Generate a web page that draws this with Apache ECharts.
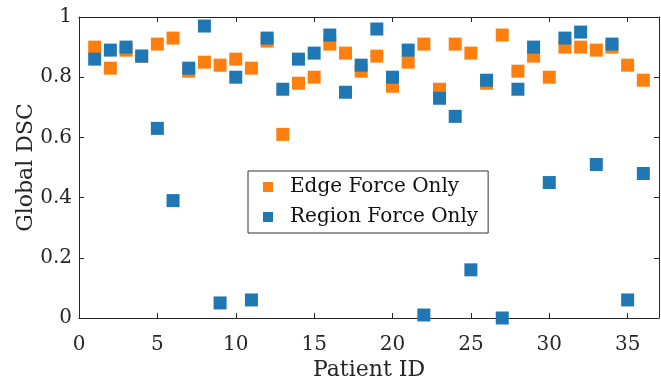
<!DOCTYPE html>
<html><head><meta charset="utf-8">
<script src="https://cdn.jsdelivr.net/npm/echarts@6/dist/echarts.min.js"></script>
<style>html,body{margin:0;padding:0;background:#fff}#c{width:661px;height:385px}</style>
</head><body><div id="c"></div>
<script>
const patientIds = [1,2,3,4,5,6,7,8,9,10,11,12,13,14,15,16,17,18,19,20,21,22,23,24,25,26,27,28,29,30,31,32,33,34,35,36];
const edgeForce = [0.90,0.83,0.89,0.87,0.91,0.93,0.82,0.85,0.84,0.86,0.83,0.92,0.61,0.78,0.80,0.91,0.88,0.82,0.87,0.77,0.85,0.91,0.76,0.91,0.88,0.78,0.94,0.82,0.87,0.80,0.90,0.90,0.89,0.90,0.84,0.79];
const regionForce = [0.86,0.89,0.90,0.87,0.63,0.39,0.83,0.97,0.05,0.80,0.06,0.93,0.76,0.86,0.88,0.94,0.75,0.84,0.96,0.80,0.89,0.01,0.73,0.67,0.16,0.79,0.00,0.76,0.90,0.45,0.93,0.95,0.51,0.91,0.06,0.48];
const xTicks = [0,5,10,15,20,25,30,35];
const yTicks = [0,0.2,0.4,0.6,0.8,1];

const font = 'DejaVu Serif';
const axisColor = '#262626';
const chart = echarts.init(document.getElementById('c'));
const mk = (ids, vals) => ids.map((id, i) => [id, vals[i]]);
const baseAxis = {
  axisLine: {show: true, onZero: false, lineStyle: {color: axisColor, width: 1}},
  axisTick: {show: true, inside: true, length: 5, lineStyle: {color: axisColor}},
  splitLine: {show: false}
};
chart.setOption({
  animation: false,
  backgroundColor: '#fff',
  grid: {left: 79, right: 2, top: 17, bottom: 67, containLabel: false, outerBoundsMode: 'none'},
  legend: {
    orient: 'vertical', left: 248, top: 171,
    data: ['Edge Force Only', 'Region Force Only'],
    icon: 'rect', itemWidth: 10, itemHeight: 10, itemGap: 10,
    padding: [6, 10, 6, 15],
    borderColor: '#333', borderWidth: 1, backgroundColor: '#fff',
    textStyle: {fontFamily: font, fontSize: 20, lineHeight: 20, color: '#111', padding: [0, 0, 0, 12]}
  },
  xAxis: [
    Object.assign({}, baseAxis, {
      type: 'value', min: 0, max: 37, interval: 5, position: 'bottom',
      name: 'Patient ID', nameLocation: 'middle', nameGap: 41, nameMoveOverlap: false,
      nameTextStyle: {fontFamily: font, fontSize: 22, color: axisColor},
      axisLabel: {fontFamily: font, fontSize: 20, color: axisColor, margin: 17,
        formatter: v => xTicks.includes(v) ? String(v) : ''}
    }),
    Object.assign({}, baseAxis, {
      type: 'value', min: 0, max: 37, interval: 5, position: 'top',
      axisLabel: {show: false}
    })
  ],
  yAxis: [
    Object.assign({}, baseAxis, {
      type: 'value', min: 0, max: 1, interval: 0.2, position: 'left',
      name: 'Global DSC', nameLocation: 'middle', nameGap: 42, nameMoveOverlap: false,
      nameTextStyle: {fontFamily: font, fontSize: 22, color: axisColor},
      axisLabel: {fontFamily: font, fontSize: 20, color: axisColor, margin: 7,
        formatter: v => (v === 0 || v === 1) ? String(v) : v.toFixed(1)}
    }),
    Object.assign({}, baseAxis, {
      type: 'value', min: 0, max: 1, interval: 0.2, position: 'right',
      axisLabel: {show: false}
    })
  ],
  series: [
    {name: 'Edge Force Only', type: 'scatter', symbol: 'rect', symbolSize: 13,
     itemStyle: {color: '#ff7f0e', opacity: 1}, data: mk(patientIds, edgeForce), z: 2},
    {name: 'Region Force Only', type: 'scatter', symbol: 'rect', symbolSize: 13,
     itemStyle: {color: '#1f77b4', opacity: 1}, data: mk(patientIds, regionForce), z: 3}
  ]
});
</script></body></html>
